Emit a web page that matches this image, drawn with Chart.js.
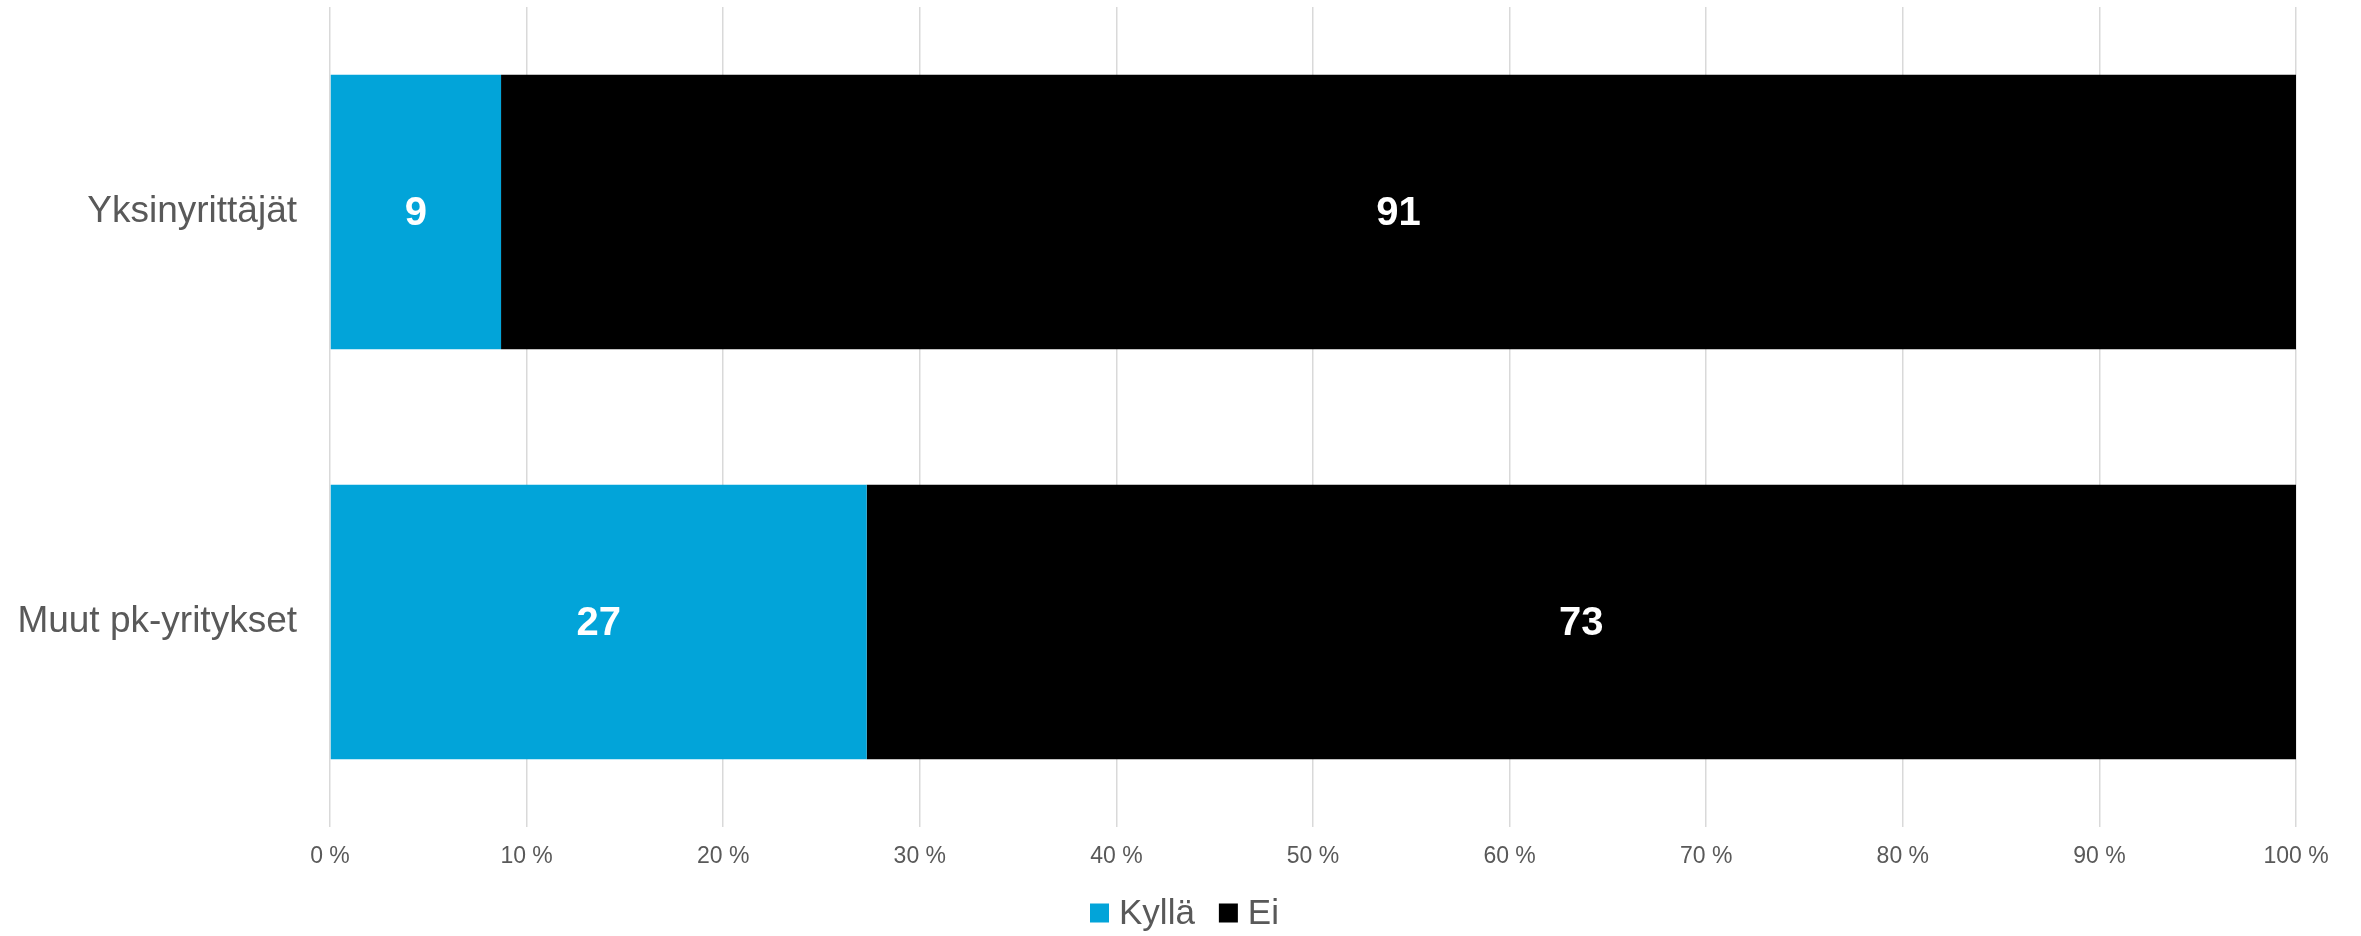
<!DOCTYPE html>
<html>
<head>
<meta charset="utf-8">
<script src="https://cdn.jsdelivr.net/npm/chart.js@4/dist/chart.umd.min.js"></script>
<style>
html,body{margin:0;padding:0;background:#fff;}
#wrap{width:2361px;height:936px;position:relative;}
</style>
</head>
<body>
<div id="wrap"><canvas id="c"></canvas></div>
<script>
const categories = ['Yksinyrittäjät', 'Muut pk-yritykset'];
const seriesNames = ['Kyllä', 'Ei'];
const kylla = [8.7, 27.3];
const ei = [91.3, 72.7];
const kyllaLabels = ['9', '27'];
const eiLabels = ['91', '73'];
const colors = ['#02A4D9', '#000000'];

const FONT = '"Liberation Sans", Arial, sans-serif';
const GREY = '#595959';

const labelPlugin = {
  id: 'barLabels',
  afterDatasetsDraw(chart) {
    const ctx = chart.ctx;
    const texts = [kyllaLabels, eiLabels];
    ctx.save();
    ctx.font = 'bold 40px ' + FONT;
    ctx.fillStyle = '#ffffff';
    ctx.textAlign = 'center';
    ctx.textBaseline = 'middle';
    chart.data.datasets.forEach((ds, di) => {
      const meta = chart.getDatasetMeta(di);
      meta.data.forEach((bar, i) => {
        const x = (bar.x + bar.base) / 2;
        ctx.fillText(texts[di][i], x, bar.y + 2);
      });
    });
    ctx.restore();
  }
};

const legendPlugin = {
  id: 'customLegend',
  afterDraw(chart) {
    const ctx = chart.ctx;
    ctx.save();
    ctx.font = '35px ' + FONT;
    const box = 19, gapText = 10, gapItem = 24;
    const items = chart.data.datasets.map(d => ({label: d.label, color: d.backgroundColor, w: ctx.measureText(d.label).width}));
    let total = 0;
    items.forEach((it, i) => { total += box + gapText + it.w + (i < items.length - 1 ? gapItem : 0); });
    let x = chart.width / 2 - total / 2 + 4;
    const cy = 913;
    ctx.textBaseline = 'middle';
    ctx.textAlign = 'left';
    items.forEach(it => {
      ctx.fillStyle = it.color;
      ctx.fillRect(x, cy - box / 2, box, box);
      x += box + gapText;
      ctx.fillStyle = GREY;
      ctx.fillText(it.label, x, cy + 1);
      x += it.w + gapItem;
    });
    ctx.restore();
  }
};

new Chart(document.getElementById('c'), {
  type: 'bar',
  data: {
    labels: categories,
    datasets: [
      {label: seriesNames[0], data: kylla, backgroundColor: colors[0], barPercentage: 0.67, categoryPercentage: 1},
      {label: seriesNames[1], data: ei, backgroundColor: colors[1], barPercentage: 0.67, categoryPercentage: 1}
    ]
  },
  options: {
    indexAxis: 'y',
    responsive: true,
    maintainAspectRatio: false,
    animation: false,
    layout: {padding: {top: 7, right: 65, bottom: 69, left: 0}},
    plugins: {
      legend: {display: false},
      tooltip: {enabled: false}
    },
    scales: {
      x: {
        stacked: true,
        min: 0, max: 100,
        ticks: {stepSize: 10, callback: v => v + ' %', font: {family: FONT, size: 23}, color: GREY, padding: 16, maxRotation: 0},
        grid: {color: '#d9d9d9', lineWidth: 1.5, drawTicks: false},
        border: {display: false},
        afterFit(scale) { scale.height = 40; }
      },
      y: {
        stacked: true,
        ticks: {font: {family: FONT, size: 37}, color: GREY, padding: 33},
        grid: {display: false, drawTicks: false},
        border: {display: false},
        afterFit(scale) { scale.width = 330; scale.paddingTop = 0; scale.paddingBottom = 0; }
      }
    }
  },
  plugins: [labelPlugin, legendPlugin]
});
</script>
</body>
</html>
